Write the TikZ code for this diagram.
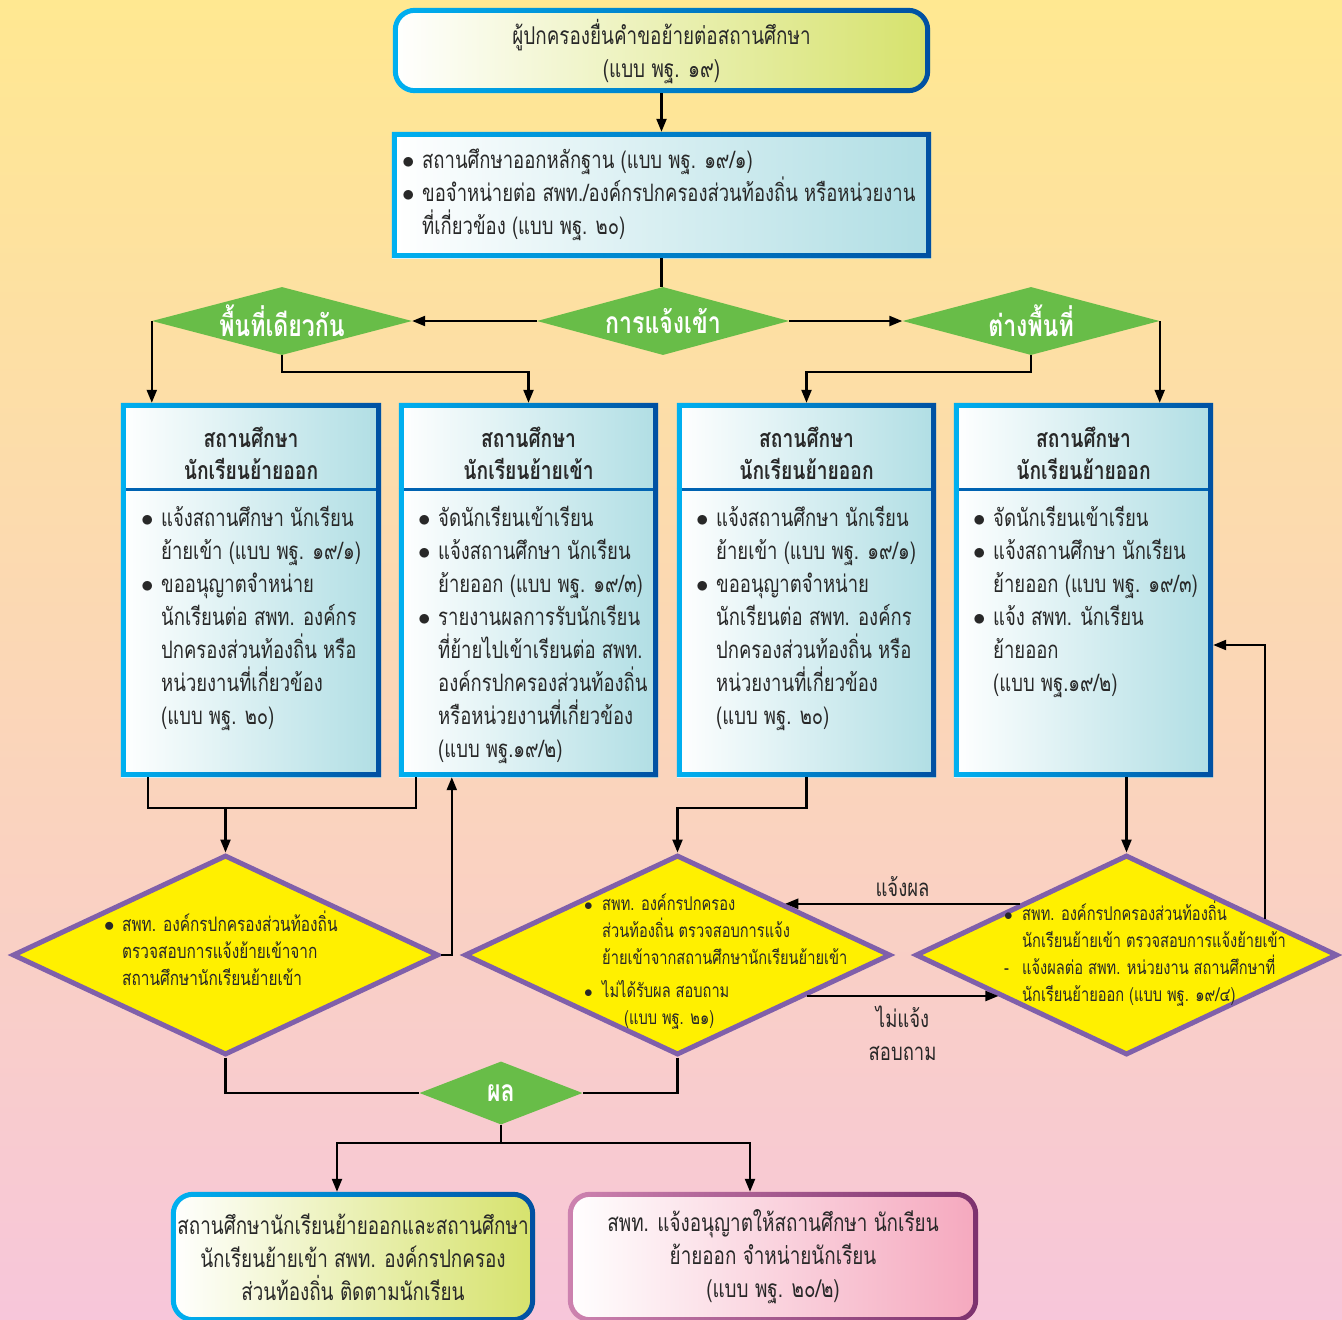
\documentclass[tikz,border=0pt]{standalone}
\usepackage{fontspec}
\setmainfont{Loma}[Script=Thai,FakeStretch=0.77]
\usetikzlibrary{shapes.geometric,arrows.meta,calc}

\definecolor{bgtop}{RGB}{255,232,145}
\definecolor{bgmid}{RGB}{253,214,190}
\definecolor{bgbot}{RGB}{247,198,218}
\definecolor{rimL}{RGB}{0,176,240}
\definecolor{rimR}{RGB}{0,80,162}
\definecolor{boxfill}{RGB}{176,222,228}
\definecolor{limefill}{RGB}{214,226,108}
\definecolor{leafgreen}{RGB}{104,189,72}
\definecolor{signyellow}{RGB}{255,240,0}
\definecolor{violetrim}{RGB}{128,96,170}
\definecolor{pinkfill}{RGB}{245,168,190}
\definecolor{pinkrimL}{RGB}{205,130,175}
\definecolor{pinkrimR}{RGB}{125,50,110}
\definecolor{ink}{RGB}{40,40,40}

\newcommand\bodyfont{\fontsize{24}{33}\selectfont}
\newcommand\bigfont{\fontsize{24.5}{33}\selectfont}
\newcommand\smallfont{\fontsize{20}{27}\selectfont}
\newcommand\tinyfont{\fontsize{19}{27}\selectfont}
\newcommand\bl{\makebox[20pt][l]{$\bullet$}}
\newcommand\sbl{\makebox[18pt][l]{$\bullet$}}
\newcommand\rim[5]{%
  \shade[left color=#4, right color=#5, even odd rule]
    [rounded corners=#2] (#1.south west) rectangle (#1.north east)
    [rounded corners=#3] ([shift={(5pt,5pt)}]#1.south west) rectangle ([shift={(-5pt,-5pt)}]#1.north east);}

\tikzset{
  panel/.style={rectangle, inner sep=0pt, left color=white, right color=boxfill},
  pill/.style={rectangle, rounded corners=22pt, inner sep=0pt},
  choice/.style={diamond, fill=leafgreen, inner sep=0pt, aspect=3.8,
    text=white, font=\fontsize{30}{32}\selectfont\bfseries},
  check/.style={diamond, fill=signyellow, draw=violetrim, line width=5pt,
    inner sep=0pt, aspect=2.1, minimum height=200pt},
  txt/.style={text=ink, font=\bodyfont, align=left, inner sep=0pt},
  stxt/.style={text=ink, font=\smallfont, align=left, inner sep=0pt},
  head/.style={text=ink, font=\fontsize{25}{32}\selectfont\bfseries, align=center, inner sep=0pt},
  divider/.style={draw=rimR!80!rimL, line width=3pt},
  line/.style={draw=black, line width=2.2pt},
  arr/.style={line, -{Triangle[length=13pt,width=10pt]}}
}

\begin{document}
\begin{tikzpicture}[x=1pt,y=-1pt]
  \useasboundingbox (0,0) rectangle (1342,1320);
  \shade[top color=bgtop, middle color=bgmid, bottom color=bgbot] (0,0) rectangle (1342,1320);

  \node[pill, left color=white, right color=limefill, minimum width=537pt, minimum height=85pt]
    (top) at (661.5,50.5) {};
  \rim{top}{22pt}{17pt}{rimL}{rimR}
  \node[head, font=\bigfont] (toptxt) at (661.5,52) {ผู้ปกครองยื่นคำขอย้ายต่อสถานศึกษา\\(แบบ พฐ. ๑๙)};

  \node[panel, minimum width=539pt, minimum height=126pt] (box0) at (661.5,195) {};
  \rim{box0}{0pt}{0pt}{rimL}{rimR}
  \node[txt, anchor=north west] (box0txt) at (402,149)
    {\bl สถานศึกษาออกหลักฐาน (แบบ พฐ. ๑๙/๑)\\
     \bl ขอจำหน่ายต่อ สพท./องค์กรปกครองส่วนท้องถิ่น หรือหน่วยงาน\\
     \hspace*{20pt}ที่เกี่ยวข้อง (แบบ พฐ. ๒๐)};

  \node[choice, minimum width=252pt, minimum height=68pt] (gIn) at (663,321) {การแจ้งเข้า};
  \node[choice, minimum width=260pt, minimum height=68pt] (gSame) at (282,321) {พื้นที่เดียวกัน};
  \node[choice, minimum width=257pt, minimum height=68pt] (gDiff) at (1031,321) {ต่างพื้นที่};

  \node[panel, minimum width=260pt, minimum height=374pt] (b1) at (251,590) {};
  \node[panel, minimum width=259pt, minimum height=374pt] (b2) at (528.5,590) {};
  \node[panel, minimum width=259pt, minimum height=374pt] (b3) at (806.5,590) {};
  \node[panel, minimum width=259pt, minimum height=374pt] (b4) at (1083.5,590) {};
  \foreach \b in {b1,b2,b3,b4}{
    \draw[divider] ([yshift=-87pt]\b.north west) -- ([yshift=-87pt]\b.north east);
    \rim{\b}{0pt}{0pt}{rimL}{rimR}
  }
  \node[head] (b1head) at (251,453) {สถานศึกษา\\นักเรียนย้ายออก};
  \node[head] (b2head) at (528.5,453) {สถานศึกษา\\นักเรียนย้ายเข้า};
  \node[head] (b3head) at (806.5,453) {สถานศึกษา\\นักเรียนย้ายออก};
  \node[head] (b4head) at (1083.5,453) {สถานศึกษา\\นักเรียนย้ายออก};
  \node[txt, anchor=north west] (b1txt) at (141,506)
    {\bl แจ้งสถานศึกษา นักเรียน\\ \hspace*{20pt}ย้ายเข้า (แบบ พฐ. ๑๙/๑)\\
     \bl ขออนุญาตจำหน่าย\\ \hspace*{20pt}นักเรียนต่อ สพท. องค์กร\\
     \hspace*{20pt}ปกครองส่วนท้องถิ่น หรือ\\ \hspace*{20pt}หน่วยงานที่เกี่ยวข้อง\\
     \hspace*{20pt}(แบบ พฐ. ๒๐)};
  \node[txt, anchor=north west] (b2txt) at (418,506)
    {\bl จัดนักเรียนเข้าเรียน\\ \bl แจ้งสถานศึกษา นักเรียน\\
     \hspace*{20pt}ย้ายออก (แบบ พฐ. ๑๙/๓)\\ \bl รายงานผลการรับนักเรียน\\
     \hspace*{20pt}ที่ย้ายไปเข้าเรียนต่อ สพท.\\ \hspace*{20pt}องค์กรปกครองส่วนท้องถิ่น\\
     \hspace*{20pt}หรือหน่วยงานที่เกี่ยวข้อง\\ \hspace*{20pt}(แบบ พฐ.๑๙/๒)};
  \node[txt, anchor=north west] (b3txt) at (696,506)
    {\bl แจ้งสถานศึกษา นักเรียน\\ \hspace*{20pt}ย้ายเข้า (แบบ พฐ. ๑๙/๑)\\
     \bl ขออนุญาตจำหน่าย\\ \hspace*{20pt}นักเรียนต่อ สพท. องค์กร\\
     \hspace*{20pt}ปกครองส่วนท้องถิ่น หรือ\\ \hspace*{20pt}หน่วยงานที่เกี่ยวข้อง\\
     \hspace*{20pt}(แบบ พฐ. ๒๐)};
  \node[txt, anchor=north west] (b4txt) at (973,506)
    {\bl จัดนักเรียนเข้าเรียน\\ \bl แจ้งสถานศึกษา นักเรียน\\
     \hspace*{20pt}ย้ายออก (แบบ พฐ. ๑๙/๓)\\ \bl แจ้ง สพท. นักเรียน\\
     \hspace*{20pt}ย้ายออก\\ \hspace*{20pt}(แบบ พฐ.๑๙/๒)};

  \node[check, minimum width=426pt] (d1) at (225.5,955) {};
  \node[check, minimum width=426pt] (d2) at (677.5,955) {};
  \node[check, minimum width=422pt] (d3) at (1126.5,955) {};
  \node[stxt, anchor=north west] (d1txt) at (104,911)
    {\sbl สพท. องค์กรปกครองส่วนท้องถิ่น\\ \hspace*{18pt}ตรวจสอบการแจ้งย้ายเข้าจาก\\
     \hspace*{18pt}สถานศึกษานักเรียนย้ายเข้า};
  \node[stxt, font=\tinyfont, anchor=north west] (d2txt) at (584,894)
    {\sbl สพท. องค์กรปกครอง\\ \hspace*{18pt}ส่วนท้องถิ่น ตรวจสอบการแจ้ง\\
     \hspace*{18pt}ย้ายเข้าจากสถานศึกษานักเรียนย้ายเข้า\\[6pt]
     \sbl ไม่ได้รับผล สอบถาม\\ \hspace*{40pt}(แบบ พฐ. ๒๑)};
  \node[stxt, font=\tinyfont, anchor=north west] (d3txt) at (1004,901)
    {\sbl สพท. องค์กรปกครองส่วนท้องถิ่น\\ \hspace*{18pt}นักเรียนย้ายเข้า ตรวจสอบการแจ้งย้ายเข้า\\
     \makebox[18pt][l]{-}แจ้งผลต่อ สพท. หน่วยงาน สถานศึกษาที่\\ \hspace*{18pt}นักเรียนย้ายออก (แบบ พฐ. ๑๙/๔)};

  \node[choice, minimum width=163pt, minimum height=63pt] (gRes) at (501,1093) {ผล};

  \node[pill, left color=white, right color=limefill, minimum width=364pt, minimum height=130pt]
    (bl) at (353,1257) {};
  \rim{bl}{22pt}{17pt}{rimL}{rimR}
  \node[head, font=\bigfont] (bltxt) at (353,1257)
    {สถานศึกษานักเรียนย้ายออกและสถานศึกษา\\นักเรียนย้ายเข้า สพท. องค์กรปกครอง\\ส่วนท้องถิ่น ติดตามนักเรียน};
  \node[pill, left color=white, right color=pinkfill, minimum width=410pt, minimum height=130pt]
    (br) at (773,1257) {};
  \rim{br}{22pt}{17pt}{pinkrimL}{pinkrimR}
  \node[head, font=\bigfont] (brtxt) at (773,1257)
    {สพท. แจ้งอนุญาตให้สถานศึกษา นักเรียน\\ย้ายออก จำหน่ายนักเรียน\\(แบบ พฐ. ๒๐/๒)};

  \draw[arr] (top.south) -- (box0.north);
  \draw[line] (box0.south) -- (box0.south |- gIn.north);
  \draw[arr] (gIn.west) -- (gSame.east);
  \draw[arr] (gIn.east) -- (gDiff.west);
  \draw[arr] (gSame.west) -- (gSame.west |- b1.north);
  \draw[arr] (gSame.south) -- ++(0,17) -| (b2.north);
  \draw[arr] (gDiff.south) -- ++(0,17) -| (b3.north);
  \draw[arr] (gDiff.east) -- (gDiff.east |- b4.north);

  \coordinate (j1) at (225.5,808);
  \draw[line] ([xshift=27pt]b1.south west) |- (j1) -| ([xshift=17pt]b2.south west);
  \draw[arr] (j1) -- (d1.north);
  \draw[arr] (d1.east) -| ([xshift=53pt]b2.south west);
  \draw[arr] (b3.south) -- ++(0,31) -| (d2.north);
  \draw[arr] (d3.north |- b4.south) -- (d3.north);
  \draw[arr] ($(d3.north east)!0.3!(d3.east)$) |- ([yshift=-55pt]b4.east);
  \draw[arr] (d3.north west) -- node[above=3pt, text=ink, font=\bodyfont] (lblres) {แจ้งผล} (d2.north east);
  \draw[arr] ($(d2.south east)!0.2!(d2.east)$) -- node[below=6pt, text=ink, font=\bodyfont, align=center] (lblask) {ไม่แจ้ง\\สอบถาม} ($(d3.south west)!0.2!(d3.west)$);

  \draw[line] (d1.south) |- (gRes.west);
  \draw[line] (d2.south) |- (gRes.east);
  \draw[line] (gRes.south) -- ++(0,18) coordinate (j2);
  \draw[arr] (j2) -| ([xshift=-16pt]bl.north);
  \draw[arr] (j2) -| ([xshift=-23pt]br.north);
\end{tikzpicture}
\end{document}
